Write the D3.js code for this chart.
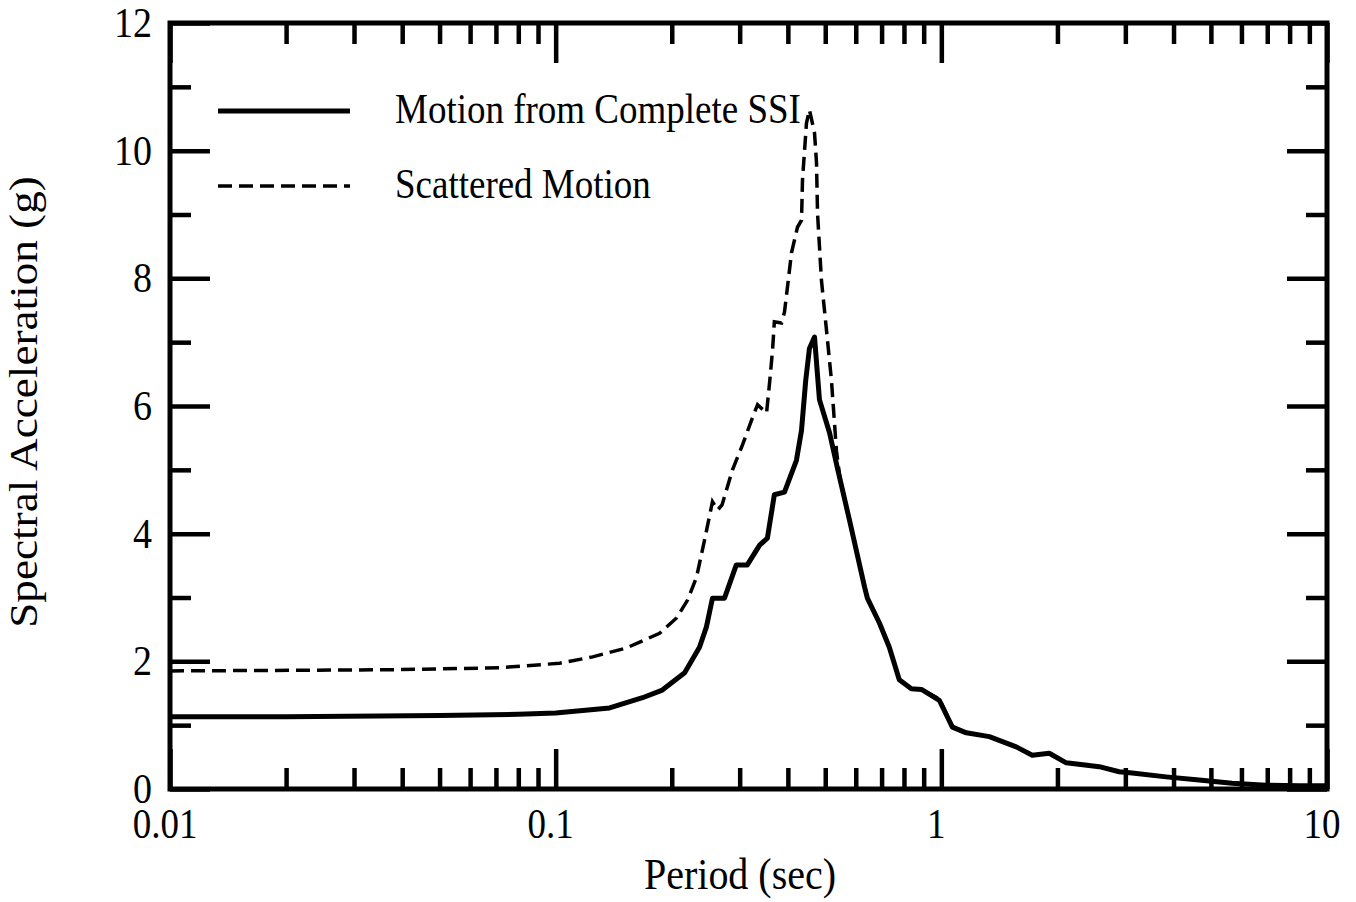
<!DOCTYPE html>
<html>
<head>
<meta charset="utf-8">
<script src="https://cdn.jsdelivr.net/npm/d3@7"></script>
<style>
    body { margin: 0; background: #fff; }
    svg { display: block; }
    text { font-family: "Liberation Serif", "Times New Roman", serif; fill: #000; }
    .tick line { stroke: #000; stroke-width: 4.5; }
</style>
</head>
<body>
<div id="chart"></div>
<script>
(function() {
    // period (sec) and spectral acceleration (g)
    var ssiPeriod = [0.01, 0.02, 0.05, 0.08, 0.1, 0.138, 0.168, 0.189, 0.216, 0.236, 0.246, 0.255, 0.274, 0.294, 0.314,
                     0.338, 0.354, 0.369, 0.392, 0.421, 0.434, 0.445, 0.455, 0.469, 0.483, 0.513, 0.538, 0.578, 0.632,
                     0.643, 0.691, 0.733, 0.778, 0.836, 0.888, 0.988, 1.068, 1.161, 1.332, 1.564, 1.721, 1.905, 2.108,
                     2.567, 2.891, 3.125, 3.828, 4.661, 5.673, 6.95, 8.46, 10];
    var ssiSa =     [1.13, 1.13, 1.15, 1.17, 1.19, 1.27, 1.43, 1.55, 1.82, 2.22, 2.54, 2.99, 2.99, 3.51, 3.51,
                     3.82, 3.93, 4.61, 4.65, 5.15, 5.62, 6.4, 6.9, 7.08, 6.1, 5.58, 5.02, 4.21, 3.17,
                     2.99, 2.6, 2.22, 1.71, 1.57, 1.56, 1.39, 0.97, 0.88, 0.82, 0.66, 0.53, 0.56, 0.41,
                     0.35, 0.27, 0.25, 0.19, 0.14, 0.09, 0.06, 0.05, 0.05];

    var scatPeriod = [0.01, 0.0217, 0.0394, 0.0716, 0.1024, 0.1247, 0.1527, 0.186, 0.2058, 0.2198, 0.2319, 0.2432,
                      0.255, 0.263, 0.27, 0.2874, 0.3051, 0.3221, 0.3337, 0.3522, 0.3586, 0.3651, 0.369, 0.3851,
                      0.392, 0.399, 0.4088, 0.4236, 0.434, 0.4365, 0.447, 0.455, 0.469, 0.4746, 0.4775, 0.4888,
                      0.5037, 0.5188, 0.5346, 0.545, 0.578, 0.632, 0.643, 0.691, 0.733, 0.778, 0.836, 0.888, 0.988,
                      1.068, 1.161, 1.332, 1.564, 1.721, 1.905, 2.108, 2.567, 2.891, 3.125, 3.828, 4.661, 5.673,
                      6.95, 8.46, 10];
    var scatSa =     [1.85, 1.86, 1.87, 1.9, 1.97, 2.07, 2.21, 2.44, 2.68, 2.96, 3.32, 3.9,
                      4.5, 4.37, 4.45, 5.0, 5.39, 5.78, 6.02, 5.89, 6.36, 6.88, 7.32, 7.3,
                      7.47, 7.86, 8.4, 8.8, 8.91, 9.54, 10.43, 10.64, 10.28, 9.81, 9.02, 7.97,
                      7.19, 6.41, 5.3, 4.9, 4.21, 3.17, 2.99, 2.6, 2.22, 1.71, 1.57, 1.56, 1.41,
                      0.98, 0.88, 0.82, 0.66, 0.53, 0.56, 0.41, 0.35, 0.27, 0.25, 0.19, 0.14, 0.09,
                      0.06, 0.05, 0.05];

    var xMajor = [0.01, 0.1, 1, 10];
    var xLabels = ["0.01", "0.1", "1", "10"];
    var yMajor = [0, 2, 4, 6, 8, 10, 12];
    var yMinor = [1, 3, 5, 7, 9, 11];

    var legendNames = ["Motion from Complete SSI", "Scattered Motion"];

    var W = 1356, H = 902;
    var margin = {left: 170, top: 23, right: 29, bottom: 113};
    var width = W - margin.left - margin.right,
        height = H - margin.top - margin.bottom;
    var stretch = 1.13;   // the scanned lettering is a bit taller than it is wide

    var xScale = d3.scaleLog().domain([0.01, 10]).range([0, width]);
    var yScale = d3.scaleLinear().domain([0, 12]).range([height, 0]);

    var xMinor = [];
    [0.01, 0.1, 1].forEach(function(d) {
        for (var k = 2; k <= 9; k++) xMinor.push(+(d * k).toPrecision(3));
    });

    var svg = d3.select("#chart").append("svg")
        .attr("width", W)
        .attr("height", H);

    var g = svg.append("g")
        .attr("transform", "translate(" + margin.left + "," + margin.top + ")");

    // ticks point inward on all four sides
    function ticks(axisFn, values, size, tx, ty) {
        var a = g.append("g")
            .attr("transform", "translate(" + tx + "," + ty + ")")
            .call(axisFn.tickValues(values).tickSize(-size).tickFormat(""));
        a.select(".domain").remove();
    }
    ticks(d3.axisBottom(xScale), xMajor, 40, 0, height);
    ticks(d3.axisBottom(xScale), xMinor, 21, 0, height);
    ticks(d3.axisTop(xScale), xMajor, 40, 0, 0);
    ticks(d3.axisTop(xScale), xMinor, 21, 0, 0);
    ticks(d3.axisLeft(yScale), yMajor, 40, 0, 0);
    ticks(d3.axisLeft(yScale), yMinor, 21, 0, 0);
    ticks(d3.axisRight(yScale), yMajor, 40, width, 0);
    ticks(d3.axisRight(yScale), yMinor, 21, width, 0);

    g.append("rect")
        .attr("width", width)
        .attr("height", height)
        .attr("fill", "none")
        .attr("stroke", "#000")
        .attr("stroke-width", 5);

    function addText(parent, txt, x, y, size, anchor, rot) {
        var t = "translate(" + x + "," + y + ")";
        t += rot ? " rotate(-90) scale(" + stretch + ",1)" : " scale(1," + stretch + ")";
        return parent.append("text")
            .attr("transform", t)
            .attr("text-anchor", anchor)
            .style("font-size", size + "px")
            .text(txt);
    }

    // tick labels
    xMajor.forEach(function(d, i) {
        addText(g, xLabels[i], xScale(d) - 5, height + 49, 37, "middle");
    });
    yMajor.forEach(function(d) {
        addText(g, d, -18, yScale(d) + 14, 38, "end");
    });

    // axis titles
    addText(svg, "Period (sec)", 740, 889, 40, "middle");
    addText(svg, "Spectral Acceleration (g)", 37, 402, 40, "middle", true);

    var line = d3.line()
        .x(function(d) { return xScale(d[0]); })
        .y(function(d) { return yScale(d[1]); });

    var scat = scatPeriod.map(function(p, i) { return [p, scatSa[i]]; });
    var ssi = ssiPeriod.map(function(p, i) { return [p, ssiSa[i]]; });

    g.append("path")
        .datum(scat)
        .attr("d", line)
        .attr("fill", "none")
        .attr("stroke", "#000")
        .attr("stroke-width", 3.5)
        .attr("stroke-dasharray", "14,7");

    g.append("path")
        .datum(ssi)
        .attr("d", line)
        .attr("fill", "none")
        .attr("stroke", "#000")
        .attr("stroke-width", 5)
        .attr("stroke-linejoin", "round");

    // legend
    var legend = svg.append("g");
    legendNames.forEach(function(name, i) {
        var ly = 111 + i * 75;
        legend.append("line")
            .attr("x1", 218).attr("x2", 350)
            .attr("y1", ly).attr("y2", ly)
            .attr("stroke", "#000")
            .attr("stroke-width", i == 0 ? 5 : 3.5)
            .attr("stroke-dasharray", i == 0 ? null : "14,7");
        addText(legend, name, 395, ly + 12, 37, "start");
    });
})();
</script>
</body>
</html>
